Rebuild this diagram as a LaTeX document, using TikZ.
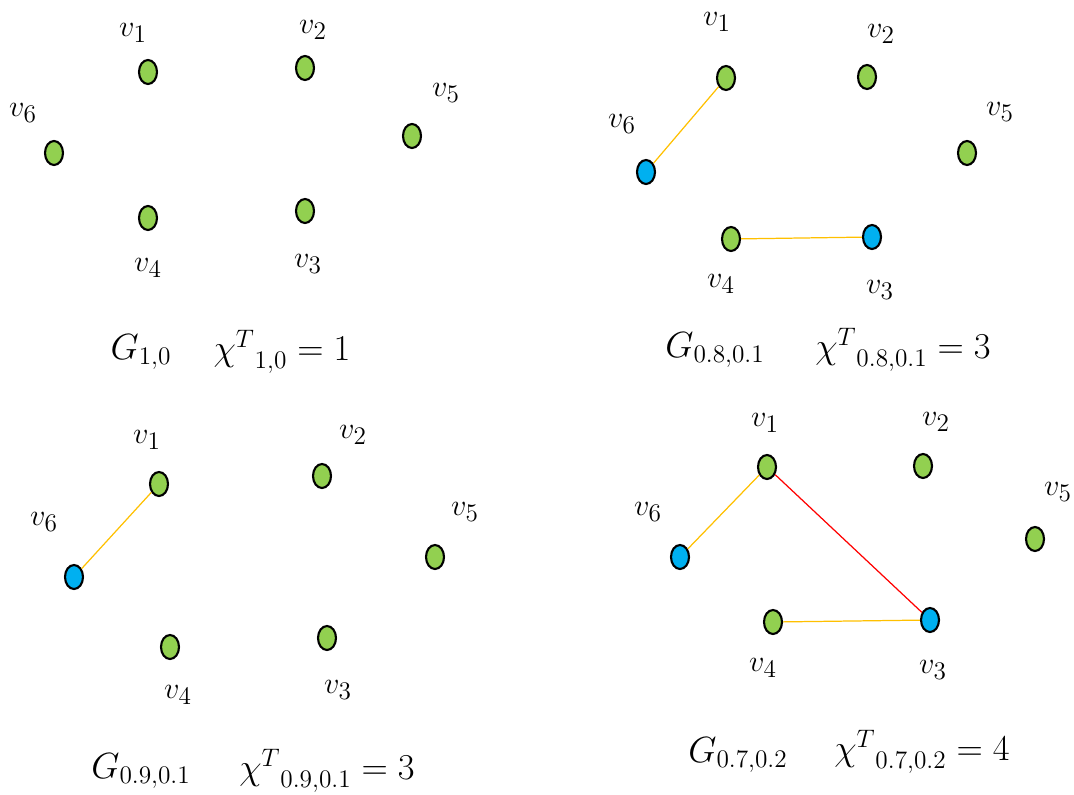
\documentclass[tikz,border=0pt]{standalone}
\usepackage{tikz}
\usetikzlibrary{shapes.geometric}
\definecolor{VGreen}{HTML}{92D050}
\definecolor{VBlue}{HTML}{00B0F0}
\definecolor{EOrange}{HTML}{FFC000}
\definecolor{ERed}{HTML}{FF0000}
\tikzset{
  vgreen/.style={draw=black,fill=VGreen,ellipse,line width=1.2pt,minimum width=0.36cm,minimum height=0.48cm,inner sep=0pt},
  vblue/.style={vgreen,fill=VBlue},
  vlabel/.style={inner sep=0pt,font=\fontsize{19}{22}\selectfont},
  caption/.style={inner sep=0pt,font=\fontsize{21}{25}\selectfont},
  oline/.style={draw=EOrange,line width=0.7pt},
  rline/.style={draw=ERed,line width=0.7pt}
}

\begin{document}
\begin{tikzpicture}[x=0.02cm,y=-0.02cm]
  \useasboundingbox (0,0) rectangle (1074,794);

  % G_{1,0}
  \node[vgreen] (a1) at (148,72) {};
  \node[vgreen] (a2) at (305,68) {};
  \node[vgreen] (a3) at (305,211) {};
  \node[vgreen] (a4) at (148,218) {};
  \node[vgreen] (a5) at (412,136) {};
  \node[vgreen] (a6) at (54,153) {};
  \node[vlabel] (la1) at (133,33) {$v_1$};
  \node[vlabel] (la2) at (313,30) {$v_2$};
  \node[vlabel] (la3) at (308,264) {$v_3$};
  \node[vlabel] (la4) at (148,268) {$v_4$};
  \node[vlabel] (la5) at (446,93) {$v_5$};
  \node[vlabel] (la6) at (23,113) {$v_6$};
  \node[caption] (ga) at (141,352) {$G_{1,0}$};
  \node[caption] (ca) at (282,352) {${\chi^T}_{1,0} = 1$};

  % G_{0.8,0.1}
  \node[vgreen] (b1) at (726,78) {};
  \node[vgreen] (b2) at (867,77) {};
  \node[vblue] (b3) at (872,237) {};
  \node[vgreen] (b4) at (731,239) {};
  \node[vgreen] (b5) at (967,153) {};
  \node[vblue] (b6) at (646,172) {};
  \node[vlabel] (lb1) at (717,22) {$v_1$};
  \node[vlabel] (lb2) at (881,34) {$v_2$};
  \node[vlabel] (lb3) at (880,290) {$v_3$};
  \node[vlabel] (lb4) at (721,284) {$v_4$};
  \node[vlabel] (lb5) at (1000,112) {$v_5$};
  \node[vlabel] (lb6) at (622,124) {$v_6$};
  \draw[oline] (b6) -- (b1);
  \draw[oline] (b4) -- (b3);
  \node[caption] (gb) at (715,350) {$G_{0.8,0.1}$};
  \node[caption] (cb) at (903,350) {${\chi^T}_{0.8,0.1} = 3$};

  % G_{0.9,0.1}
  \node[vgreen] (c1) at (159,484) {};
  \node[vgreen] (c2) at (322,476) {};
  \node[vgreen] (c3) at (327,638) {};
  \node[vgreen] (c4) at (170,647) {};
  \node[vgreen] (c5) at (435,557) {};
  \node[vblue] (c6) at (74,577) {};
  \node[vlabel] (lc1) at (147,440) {$v_1$};
  \node[vlabel] (lc2) at (353,435) {$v_2$};
  \node[vlabel] (lc3) at (338,690) {$v_3$};
  \node[vlabel] (lc4) at (178,695) {$v_4$};
  \node[vlabel] (lc5) at (465,512) {$v_5$};
  \node[vlabel] (lc6) at (44,522) {$v_6$};
  \draw[oline] (c6) -- (c1);
  \node[caption] (gc) at (141,771) {$G_{0.9,0.1}$};
  \node[caption] (cc) at (327,771) {${\chi^T}_{0.9,0.1} = 3$};

  % G_{0.7,0.2}
  \node[vgreen] (d1) at (767,467) {};
  \node[vgreen] (d2) at (923,466) {};
  \node[vblue] (d3) at (930,620) {};
  \node[vgreen] (d4) at (773,622) {};
  \node[vgreen] (d5) at (1035,539) {};
  \node[vblue] (d6) at (680,557) {};
  \node[vlabel] (ld1) at (765,423) {$v_1$};
  \node[vlabel] (ld2) at (936,422) {$v_2$};
  \node[vlabel] (ld3) at (933,670) {$v_3$};
  \node[vlabel] (ld4) at (763,668) {$v_4$};
  \node[vlabel] (ld5) at (1058,492) {$v_5$};
  \node[vlabel] (ld6) at (648,512) {$v_6$};
  \draw[oline] (d6) -- (d1);
  \draw[rline] (d1) -- (d3);
  \draw[oline] (d4) -- (d3);
  \node[caption] (gd) at (738,755) {$G_{0.7,0.2}$};
  \node[caption] (cd) at (922,752) {${\chi^T}_{0.7,0.2} = 4$};
\end{tikzpicture}
\end{document}
